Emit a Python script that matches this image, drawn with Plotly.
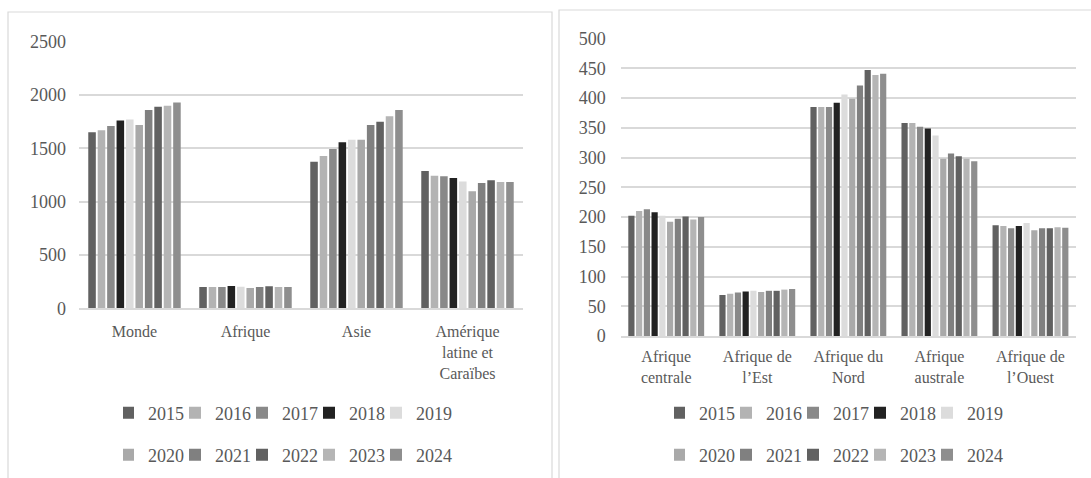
import plotly.graph_objects as go

years = ["2015", "2016", "2017", "2018", "2019", "2020", "2021", "2022", "2023", "2024"]

# Left chart: categories and values per category (one value per year)
left_categories = ["Monde", "Afrique", "Asie", "Amérique latine et Caraïbes"]
left_tick_labels = ["Monde", "Afrique", "Asie", "Amérique<br>latine et<br>Caraïbes"]
monde = [1650, 1670, 1710, 1760, 1770, 1720, 1860, 1890, 1900, 1930]
afrique = [200, 200, 200, 210, 203, 191, 200, 206, 200, 200]
asie = [1375, 1429, 1494, 1557, 1580, 1580, 1720, 1750, 1800, 1860]
amerique_latine = [1288, 1244, 1238, 1222, 1188, 1098, 1175, 1201, 1185, 1185]

# Right chart
right_categories = ["Afrique centrale", "Afrique de l’Est", "Afrique du Nord", "Afrique australe", "Afrique de l’Ouest"]
right_tick_labels = ["Afrique<br>centrale", "Afrique de<br>l’Est", "Afrique du<br>Nord", "Afrique<br>australe", "Afrique de<br>l’Ouest"]
afrique_centrale = [202, 210, 213, 208, 202, 192, 197, 201, 196, 200]
afrique_est = [69, 71, 73, 75, 76, 74, 76, 76, 78, 79]
afrique_nord = [385, 385, 385, 392, 406, 399, 421, 447, 439, 441]
afrique_australe = [358, 358, 352, 349, 337, 298, 307, 302, 298, 294]
afrique_ouest = [186, 185, 181, 185, 190, 178, 181, 181, 183, 182]

colors = ["#616161", "#b3b3b3", "#898989", "#222222", "#dcdcdc",
          "#a9a9a9", "#808080", "#616161", "#b5b5b5", "#8e8e8e"]

W, H = 1091, 478
def px_x(p):
    return p / W
def px_y(p):
    return 1 - p / H

FONT = "Liberation Serif"
TXT = "#595959"
GRID = "#d9d9d9"

left_series = [monde, afrique, asie, amerique_latine]
right_series = [afrique_centrale, afrique_est, afrique_nord, afrique_australe, afrique_ouest]

fig = go.Figure()
for i, yr in enumerate(years):
    fig.add_trace(go.Bar(
        x=left_categories, y=[s[i] for s in left_series], name=yr,
        marker=dict(color=colors[i], line=dict(width=0)),
        xaxis="x", yaxis="y", legend="legend" if i < 5 else "legend2",
        showlegend=True,
    ))
for i, yr in enumerate(years):
    fig.add_trace(go.Bar(
        x=right_categories, y=[s[i] for s in right_series], name=yr,
        marker=dict(color=colors[i], line=dict(width=0)),
        xaxis="x2", yaxis="y2", legend="legend3" if i < 5 else "legend4",
        showlegend=True,
    ))

def legend_cfg(x_px, y_px):
    return dict(
        orientation="h", x=px_x(x_px), xanchor="left", y=px_y(y_px), yanchor="middle",
        font=dict(family=FONT, size=18, color=TXT), bgcolor="rgba(0,0,0,0)",
        entrywidth=37, indentation=-15, itemclick=False, itemdoubleclick=False,
        tracegroupgap=0,
    )

axis_font = dict(family=FONT, size=18, color=TXT)
cat_font = dict(family=FONT, size=16, color=TXT)

fig.update_layout(
    width=W, height=H,
    margin=dict(l=0, r=0, t=0, b=0, pad=0, autoexpand=False),
    paper_bgcolor="white", plot_bgcolor="white",
    barmode="group", bargap=0.15, bargroupgap=0.2,
    font=dict(family=FONT, color=TXT),
    xaxis=dict(domain=[px_x(79), px_x(523)], anchor="y", automargin=False,
               tickmode="array", tickvals=left_categories, ticktext=left_tick_labels,
               tickfont=cat_font, showline=True, linecolor=GRID, linewidth=1.5,
               ticks="", showgrid=False, ticklabelstandoff=8),
    yaxis=dict(domain=[px_y(308.3), px_y(41.7)], anchor="x", range=[0, 2500], dtick=500,
               automargin=False,
               tickfont=axis_font, showgrid=True, gridcolor=GRID, gridwidth=1.5,
               zeroline=False, showline=False, ticks="", ticklabelstandoff=12),
    xaxis2=dict(domain=[px_x(620.7), px_x(1076)], anchor="y2", automargin=False,
                tickmode="array", tickvals=right_categories, ticktext=right_tick_labels,
                tickfont=cat_font, showline=True, linecolor=GRID, linewidth=1.5,
                ticks="", showgrid=False, ticklabelstandoff=5),
    yaxis2=dict(domain=[px_y(336), px_y(38.6)], anchor="x2", range=[0, 500], dtick=50,
                automargin=False,
                tickfont=axis_font, showgrid=True, gridcolor=GRID, gridwidth=1.5,
                zeroline=False, showline=False, ticks="", ticklabelstandoff=14),
    legend=legend_cfg(123, 413),
    legend2=legend_cfg(123, 455),
    legend3=legend_cfg(674, 413),
    legend4=legend_cfg(674, 455),
    shapes=[
        dict(type="rect", xref="paper", yref="paper", x0=px_x(8), x1=px_x(552),
             y0=px_y(485), y1=px_y(12), line=dict(color=GRID, width=1.2), layer="below"),
        dict(type="rect", xref="paper", yref="paper", x0=px_x(559), x1=px_x(1095),
             y0=px_y(485), y1=px_y(10), line=dict(color=GRID, width=1.2), layer="below"),
    ],
)

fig.write_html("out.html", config={"displayModeBar": False},
               post_script="document.body.style.margin='0';")
